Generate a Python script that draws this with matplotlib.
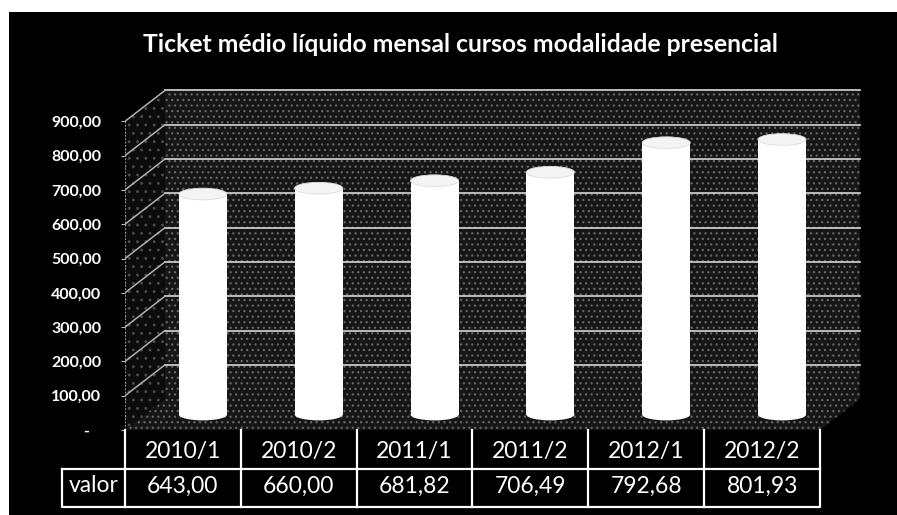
import matplotlib.pyplot as plt
from matplotlib.patches import Rectangle, Polygon, Ellipse

periodos = ['2010/1', '2010/2', '2011/1', '2011/2', '2012/1', '2012/2']
valores = [643.00, 660.00, 681.82, 706.49, 792.68, 801.93]
ticks_y = [0, 100, 200, 300, 400, 500, 600, 700, 800, 900]

plt.rcParams['font.family'] = ['Lato', 'DejaVu Sans']
plt.rcParams['hatch.linewidth'] = 0.9

def fmt(v):
    return f'{v:,.2f}'.replace(',', 'X').replace('.', ',').replace('X', '.')

# profundidade do "3D" (em unidades de categoria / valor)
DX = 0.345
DY = 90
TOPO = 900
n = len(periodos)
x0, x1 = -0.5, n - 0.5

fig = plt.figure(figsize=(8.97, 5.15), dpi=100, facecolor='white')
fig.patches.append(Rectangle((9 / 897, 0), 1, 1 - 12 / 515, transform=fig.transFigure,
                             facecolor='black', edgecolor='none', zorder=0))
ax = fig.add_axes([125 / 897, 85 / 515, 740 / 897, 343 / 515])
ax.set_zorder(2)
ax.set_facecolor('none')
ax.set_xlim(x0, x0 + 740 / 115.83)
ax.set_ylim(0, 1000)
for s in ax.spines.values():
    s.set_visible(False)

# parede do fundo, lateral e piso
ax.add_patch(Rectangle((x0 + DX, DY), n, TOPO, facecolor='#161616', edgecolor='#666666',
                       hatch='...', lw=0, zorder=1))
ax.add_patch(Polygon([(x0, 0), (x0, TOPO), (x0 + DX, TOPO + DY), (x0 + DX, DY)],
                     facecolor='#0c0c0c', edgecolor='#4a4a4a', hatch='..', lw=0, zorder=1))
ax.add_patch(Polygon([(x0, 0), (x1, 0), (x1 + DX, DY), (x0 + DX, DY)],
                     facecolor='#161616', edgecolor='#666666', hatch='...', lw=0, zorder=1))

for t in ticks_y[1:]:
    ax.plot([x0 + DX, x1 + DX], [t + DY, t + DY], color='#c8c8c8', lw=1.3, zorder=2)
    ax.plot([x0, x0 + DX], [t, t + DY], color='#b0b0b0', lw=1.1, zorder=2)
ax.plot([x0, x0], [0, TOPO], color='#bbbbbb', lw=1.2, ls=(0, (1, 1)), zorder=2)

# cilindros
larg = 0.415
alt_elipse = 34
for i, v in enumerate(valores):
    cx = i + DX / 2
    base = DY / 2
    ax.bar(cx, v, bottom=base, width=larg, color='white', edgecolor='none', zorder=3)
    ax.add_patch(Ellipse((cx, base), larg, alt_elipse, facecolor='white', edgecolor='none', zorder=3))
    ax.add_patch(Ellipse((cx, base + v), larg, alt_elipse, facecolor='#f4f4f4',
                         edgecolor='#dddddd', lw=0.6, zorder=4))

ax.set_xticks([])
ax.set_yticks(ticks_y)
ax.set_yticklabels(['-   '] + [fmt(t) for t in ticks_y[1:]])
ax.tick_params(axis='y', colors='#bbbbbb', labelcolor='white', length=3, pad=14, labelsize=11.5)
for lb in ax.get_yticklabels():
    lb.set_fontweight('bold')

# tabela de dados
r1, r2 = -114, -224
xv = x0 - 63 / 115.83
kw = dict(color='white', lw=1.6, clip_on=False, zorder=5)
ax.plot([x0, x0, x1, x1], [0, r2, r2, 0], **kw)
ax.plot([xv, x1], [r1, r1], **kw)
ax.plot([xv, xv, x0], [r1, r2, r2], **kw)
for i in range(1, n):
    ax.plot([i - 0.5, i - 0.5], [0, r2], **kw)
for i, (p, v) in enumerate(zip(periodos, valores)):
    ax.text(i, r1 * 0.56, p, color='white', fontsize=16.5, ha='center', va='center', clip_on=False)
    ax.text(i, (r1 + r2) / 2 + 6, fmt(v), color='white', fontsize=16.5, ha='center', va='center',
            clip_on=False)
ax.text((xv + x0) / 2, (r1 + r2) / 2 + 6, 'valor', color='white', fontsize=16.5, ha='center',
        va='center', clip_on=False)

fig.text(460 / 897, 1 - 45 / 515, 'Ticket médio líquido mensal cursos modalidade presencial',
         color='white', fontsize=17.8, fontweight='bold', ha='center', va='center')

fig.savefig('out.png', dpi=100, facecolor='white')
